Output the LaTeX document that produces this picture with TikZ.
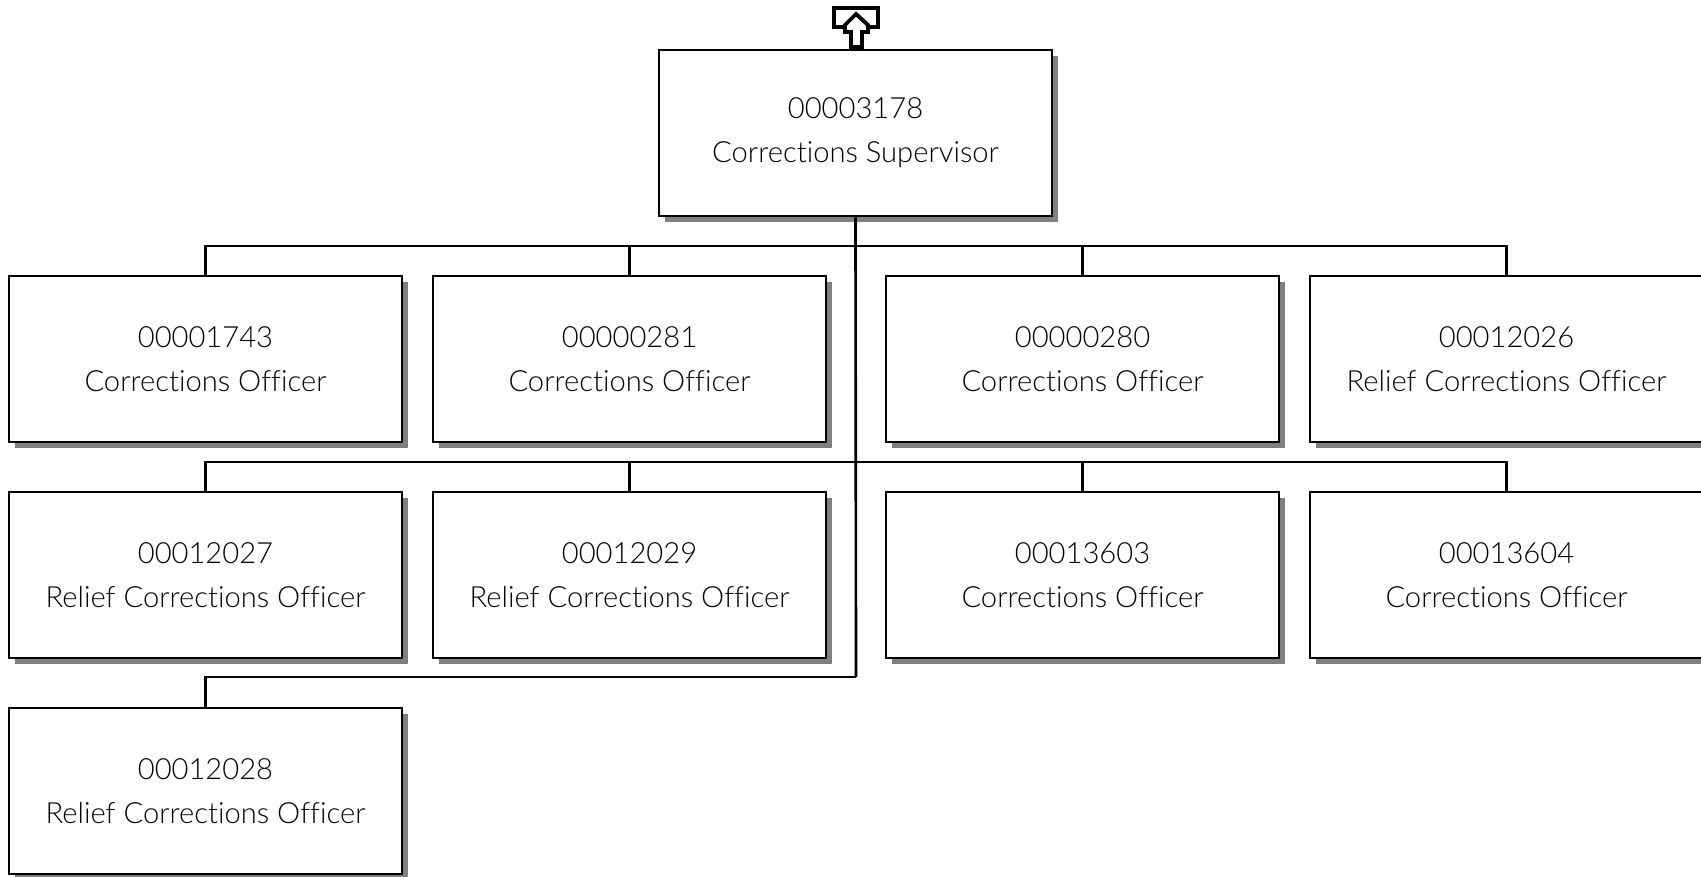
\documentclass[tikz,border=0pt]{standalone}
\usepackage{fontspec}
\IfFontExistsTF{Lato Light}{\setmainfont{Lato Light}[Ligatures={NoCommon,NoRare}]}{\setmainfont{Lato}[Ligatures={NoCommon,NoRare}]}
\usetikzlibrary{shadows}

\begin{document}
\begin{tikzpicture}[x=0.02cm,y=-0.02cm]
\tikzstyle{post}=[rectangle,draw,line width=1.5pt,fill=white,minimum width=7.86cm,minimum height=3.32cm,inner sep=0pt,align=center,font=\fontsize{16.6}{25}\selectfont,drop shadow={shadow xshift=0.12cm,shadow yshift=-0.12cm,fill=black!50,opacity=1}]
\tikzstyle{conn}=[line width=1.5pt]
\useasboundingbox (0,0) rectangle (1701,876);
% supervisor and the up marker
\node[post] (sup) at (855.5,133) {00003178\\Corrections Supervisor};
\draw[line width=2.2pt,fill=white] (834,8) rectangle (878,27);
\draw[line width=2.2pt,fill=white] (856,14) -- (845,25) -- (845,32) -- (851,32) -- (851,47)
  -- (862,47) -- (862,32) -- (868,32) -- (868,25) -- cycle;
% first row
\node[post] (a1) at (205.5,359) {00001743\\Corrections Officer};
\node[post] (a2) at (629.5,359) {00000281\\Corrections Officer};
\node[post] (a3) at (1082.5,359) {00000280\\Corrections Officer};
\node[post] (a4) at (1506.5,359) {00012026\\Relief Corrections Officer};
% second row
\node[post] (b1) at (205.5,575) {00012027\\Relief Corrections Officer};
\node[post] (b2) at (629.5,575) {00012029\\Relief Corrections Officer};
\node[post] (b3) at (1082.5,575) {00013603\\Corrections Officer};
\node[post] (b4) at (1506.5,575) {00013604\\Corrections Officer};
% third row
\node[post] (c1) at (205.5,791) {00012028\\Relief Corrections Officer};
% junctions on the trunk
\coordinate (j1) at (856,246);
\coordinate (j2) at (856,462);
\coordinate (j3) at (856,677);
\draw[conn] (sup.south) -- (j3);
\foreach \n in {a1,a2,a3,a4} \draw[conn] (\n.north) |- (j1);
\foreach \n in {b1,b2,b3,b4} \draw[conn] (\n.north) |- (j2);
\draw[conn] (c1.north) |- (j3);
\end{tikzpicture}
\end{document}
